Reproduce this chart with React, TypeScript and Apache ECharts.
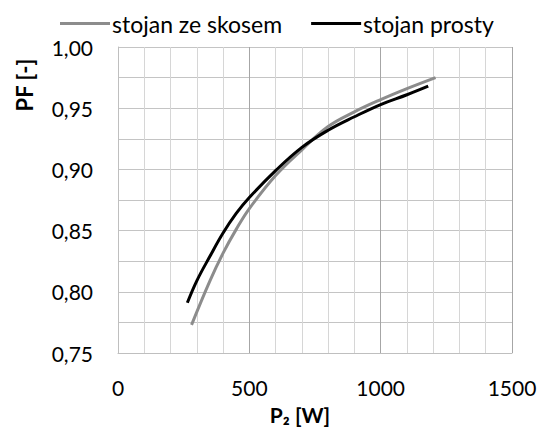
import React, { useEffect, useRef } from "react";
import * as echarts from "echarts";

const skosP = [280, 350, 401, 450, 500, 600, 700, 800, 900, 1000, 1100, 1209];
const skosPF = [0.773, 0.809, 0.832, 0.851, 0.868, 0.895, 0.916, 0.935, 0.947, 0.957, 0.966, 0.975];
const prostyP = [264, 300, 350, 400, 450, 500, 600, 700, 800, 900, 1000, 1100, 1181];
const prostyPF = [0.791, 0.809, 0.829, 0.848, 0.864, 0.877, 0.899, 0.918, 0.932, 0.943, 0.953, 0.961, 0.968];
const seriesNames = ["stojan ze skosem", "stojan prosty"];

const FONT = "Lato, 'Open Sans', sans-serif";

export default function App() {
  const ref = useRef<HTMLDivElement>(null);
  useEffect(() => {
    const chart = echarts.init(ref.current!, null, { renderer: "svg" });
    chart.setOption({
      animation: false,
      textStyle: { fontFamily: FONT },
      legend: {
        left: 55,
        top: 7,
        icon: "rect",
        itemWidth: 50,
        itemHeight: 3,
        itemGap: 29,
        textStyle: { fontSize: 23, color: "#000", fontFamily: FONT, padding: [0, 0, 0, -3] },
        data: seriesNames,
      },
      grid: { left: 118, right: 30, top: 47, bottom: 76, containLabel: false },
      xAxis: {
        type: "value",
        min: 0,
        max: 1500,
        interval: 500,
        axisLine: { show: true, lineStyle: { color: "#bfbfbf", width: 1 } },
        axisTick: { show: false },
        axisLabel: {
          fontSize: 21,
          color: "#000",
          margin: 24,
          fontFamily: FONT,
          formatter: (v: number) => String(v),
        },
        splitLine: { show: true, lineStyle: { color: "#a6a6a6", width: 1 } },
        minorTick: { show: false, splitNumber: 5 },
        minorSplitLine: { show: true, lineStyle: { color: "#d6d6d6", width: 1 } },
      },
      yAxis: {
        type: "value",
        min: 0.75,
        max: 1.0,
        interval: 0.05,
        axisLine: { show: true, lineStyle: { color: "#bfbfbf", width: 1 } },
        axisTick: { show: false },
        axisLabel: {
          fontSize: 21,
          color: "#000",
          margin: 25,
          fontFamily: FONT,
          formatter: (v: number) => v.toFixed(2).replace(".", ","),
        },
        splitLine: { show: true, lineStyle: { color: "#c4c4c4", width: 1 } },
        minorTick: { show: false, splitNumber: 2 },
        minorSplitLine: { show: true, lineStyle: { color: "#c4c4c4", width: 1 } },
      },
      graphic: [
        {
          type: "text",
          x: 300,
          y: 414,
          style: {
            text: "P₂ [W]",
            font: `bold 21px ${FONT}`,
            fill: "#000",
            textAlign: "center",
            textVerticalAlign: "middle",
          },
        },
        {
          type: "text",
          x: 24,
          y: 85,
          rotation: Math.PI / 2,
          style: {
            text: "PF [-]",
            font: `bold 22px ${FONT}`,
            fill: "#000",
            textAlign: "center",
            textVerticalAlign: "middle",
          },
        },
      ],
      series: [
        {
          name: seriesNames[0],
          type: "line",
          smooth: 0.4,
          showSymbol: false,
          lineStyle: { color: "#8c8c8c", width: 3 },
          itemStyle: { color: "#8c8c8c" },
          data: skosP.map((p, i) => [p, skosPF[i]]),
        },
        {
          name: seriesNames[1],
          type: "line",
          smooth: 0.4,
          showSymbol: false,
          lineStyle: { color: "#000", width: 3 },
          itemStyle: { color: "#000" },
          data: prostyP.map((p, i) => [p, prostyPF[i]]),
        },
      ],
    });
    return () => chart.dispose();
  }, []);
  return <div ref={ref} style={{ width: 542, height: 429, position: "absolute", left: 0, top: 0 }} />;
}
